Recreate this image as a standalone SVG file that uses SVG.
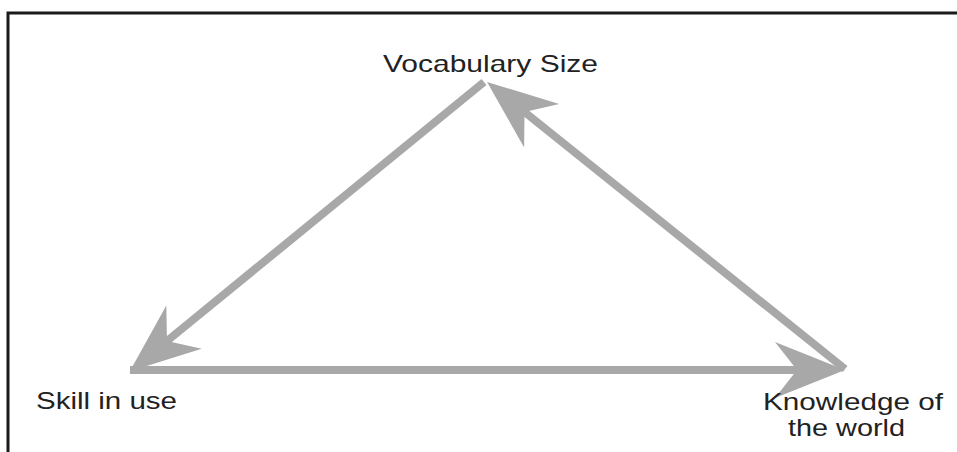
<svg xmlns="http://www.w3.org/2000/svg" width="957" height="452" viewBox="0 0 957 452">
<style>
.lbl{font-family:"Liberation Sans",Arial,sans-serif;font-size:24px;fill:#222;}
.edge{stroke:#a8a8a8;stroke-width:8;fill:none;marker-end:url(#ah);}
</style>
<defs>
<marker id="ah" markerUnits="userSpaceOnUse" orient="auto" refX="0" refY="0" markerWidth="80" markerHeight="70" viewBox="-25 -35 80 70" overflow="visible">
<path d="M48,0 L-22,-28 L0,0 L-22,28 Z" fill="#a8a8a8"/>
</marker>
</defs>
<rect width="957" height="452" fill="#fff"/>
<path d="M8,452 V13 H957" fill="none" stroke="#1a1a1a" stroke-width="3"/>
<g id="connectors">
<path class="edge" d="M484,82 L167,341"/>
<path class="edge" d="M130,370 L797,370"/>
<path class="edge" d="M845,369 L524.5,112"/>
</g>
<g id="node-vocab"><text class="lbl" x="383" y="72" textLength="215" lengthAdjust="spacingAndGlyphs">Vocabulary Size</text></g>
<g id="node-skill"><text class="lbl" x="36" y="409" textLength="141" lengthAdjust="spacingAndGlyphs">Skill in use</text></g>
<g id="node-knowledge"><text class="lbl" x="763" y="410" textLength="180" lengthAdjust="spacingAndGlyphs">Knowledge of</text><text class="lbl" x="788" y="436" textLength="117" lengthAdjust="spacingAndGlyphs">the world</text></g>
</svg>
